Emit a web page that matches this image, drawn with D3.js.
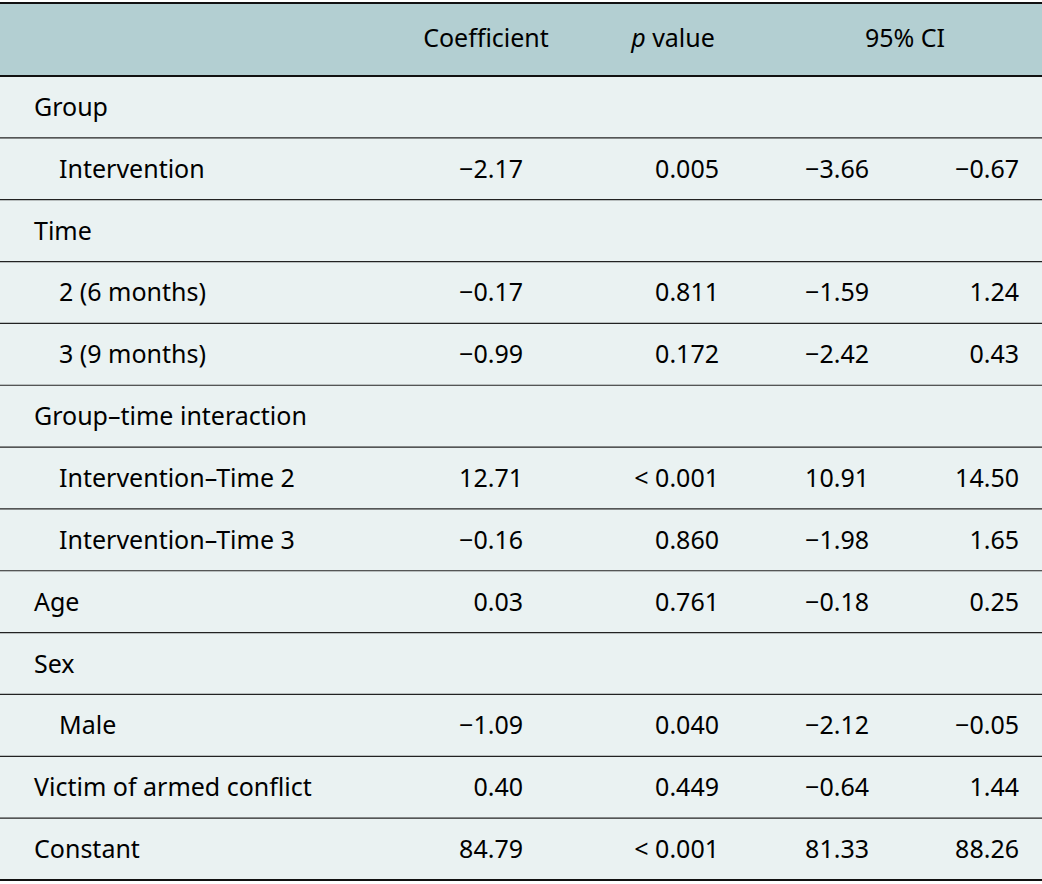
<!DOCTYPE html><html><head><meta charset="utf-8">
<script src="https://cdn.jsdelivr.net/npm/d3@7"></script>
<style>body{margin:0;background:#fff}</style></head><body>
<script>
const headers=["","Coefficient","p value","95% CI"];
const labels=["Group","Intervention","Time","2 (6 months)","3 (9 months)","Group–time interaction","Intervention–Time 2","Intervention–Time 3","Age","Sex","Male","Victim of armed conflict","Constant"];
const indent=[0,1,0,1,1,0,1,1,0,0,1,0,0];
const coef=["","−2.17","","−0.17","−0.99","","12.71","−0.16","0.03","","−1.09","0.40","84.79"];
const pval=["","0.005","","0.811","0.172","","< 0.001","0.860","0.761","","0.040","0.449","< 0.001"];
const ciLo=["","−3.66","","−1.59","−2.42","","10.91","−1.98","−0.18","","−2.12","−0.64","81.33"];
const ciHi=["","−0.67","","1.24","0.43","","14.50","1.65","0.25","","−0.05","1.44","88.26"];
const W=1042,H=884;
const svg=d3.select("body").append("svg").attr("width",W).attr("height",H).style("font-family","'Noto Sans',sans-serif").style("font-size","25px");
const y=d3.scaleLinear().domain([0,labels.length]).range([76,880]);
svg.append("rect").attr("x",0).attr("y",3).attr("width",W).attr("height",73).attr("fill","#b3cfd2");
svg.append("rect").attr("x",0).attr("y",76).attr("width",W).attr("height",804).attr("fill","#eaf2f2");
svg.append("line").attr("x1",0).attr("x2",W).attr("y1",3).attr("y2",3).attr("stroke","#111").attr("stroke-width",2);
svg.append("line").attr("x1",0).attr("x2",W).attr("y1",76).attr("y2",76).attr("stroke","#111").attr("stroke-width",2);
const hy=47;
svg.append("text").attr("x",486).attr("y",hy).attr("text-anchor","middle").text(headers[1]);
const pv=svg.append("text").attr("x",673).attr("y",hy).attr("text-anchor","middle");
pv.append("tspan").attr("font-style","italic").text("p");pv.append("tspan").text(" value");
svg.append("text").attr("x",905).attr("y",hy).attr("text-anchor","middle").text(headers[3]);
labels.forEach((l,i)=>{
  const ty=(y(i)+y(i+1))/2+9;
  if(i>0) svg.append("line").attr("x1",0).attr("x2",W).attr("y1",y(i)).attr("y2",y(i)).attr("stroke","#222").attr("stroke-width",1.2);
  svg.append("text").attr("x",indent[i]?59:34).attr("y",ty).text(l);
  [[coef,523],[pval,719],[ciLo,869],[ciHi,1019]].forEach(([a,x])=>{
    if(a[i]) svg.append("text").attr("x",x).attr("y",ty).attr("text-anchor","end").text(a[i]);
  });
});
svg.append("line").attr("x1",0).attr("x2",W).attr("y1",880).attr("y2",880).attr("stroke","#111").attr("stroke-width",2);
</script></body></html>
